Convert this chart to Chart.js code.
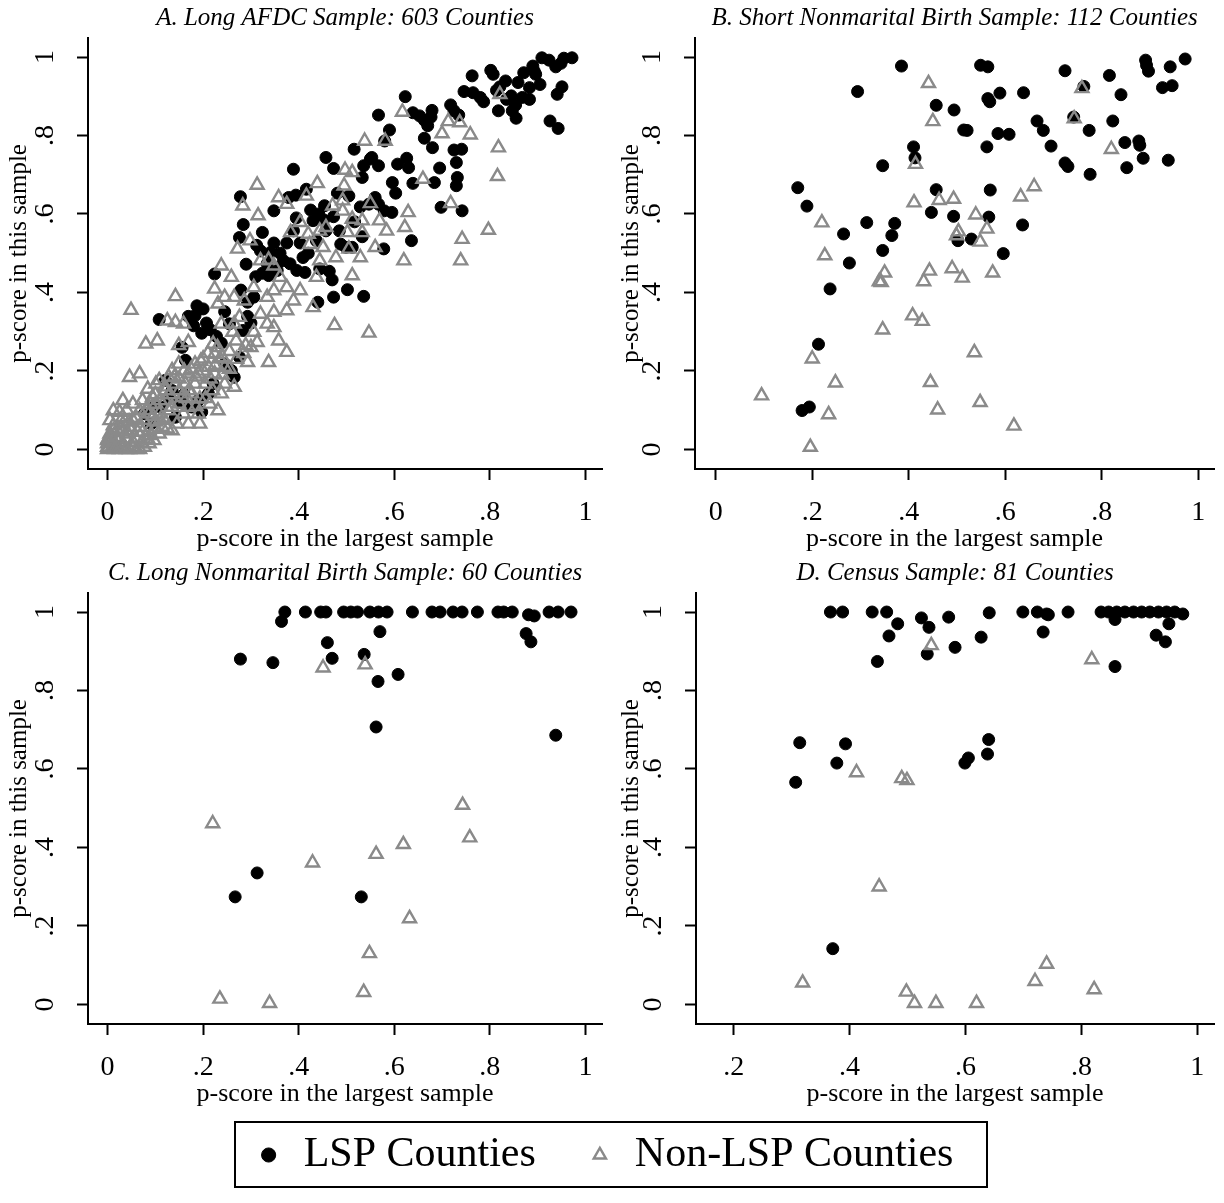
<!DOCTYPE html>
<html>
<head>
<meta charset="utf-8">
<script src="https://cdn.jsdelivr.net/npm/chart.js@4.4.1/dist/chart.umd.min.js"></script>
<style>
  html, body { margin: 0; padding: 0; background: #fff; }
  body { position: relative; width: 1224px; height: 1203px; overflow: hidden; }
  canvas { position: absolute; }
  #legendBox { position: absolute; left: 234px; top: 1121px; width: 754px; height: 67px; box-sizing: border-box; border: 2px solid #000; }
</style>
</head>
<body>
<canvas id="panelA" width="612" height="555" style="left:0;top:0"></canvas>
<canvas id="panelB" width="612" height="555" style="left:612px;top:0"></canvas>
<canvas id="panelC" width="612" height="555" style="left:0;top:555px"></canvas>
<canvas id="panelD" width="612" height="555" style="left:612px;top:555px"></canvas>
<div id="legendBox"></div>
<canvas id="legendChart" width="1224" height="200" style="left:-8px;top:1084px"></canvas>
<script>
// tick values + labels (stata style, no leading zero)
const tickVals = [0, 0.2, 0.4, 0.6, 0.8, 1];
const tickText = ['0', '.2', '.4', '.6', '.8', '1'];
const tickValsD = [0.2, 0.4, 0.6, 0.8, 1];

// [p-score in largest sample, p-score in this sample]
const lspA = [
  [0.909,0.998],[0.924,0.992],[0.955,0.997],[0.972,0.998],[0.890,0.977],[0.871,0.960],[0.896,0.956],[0.938,0.975],[0.949,0.984],[0.802,0.966],
  [0.807,0.956],[0.763,0.952],[0.833,0.939],[0.859,0.935],[0.821,0.924],[0.746,0.912],[0.765,0.909],[0.780,0.897],[0.787,0.886],[0.814,0.915],
  [0.845,0.901],[0.868,0.897],[0.883,0.892],[0.854,0.878],[0.847,0.863],[0.818,0.863],[0.855,0.844],[0.905,0.930],[0.883,0.922],[0.951,0.924],
  [0.941,0.905],[0.926,0.837],[0.943,0.818],[0.893,0.964],[0.835,0.892],
  [0.623,0.899],[0.567,0.852],[0.639,0.858],[0.653,0.850],[0.663,0.839],[0.670,0.825],[0.679,0.864],[0.677,0.847],[0.718,0.878],[0.725,0.863],
  [0.735,0.852],[0.663,0.793],[0.680,0.769],[0.725,0.763],[0.741,0.765],[0.730,0.731],[0.732,0.693],[0.730,0.672],[0.695,0.717],[0.684,0.680],
  [0.698,0.617],[0.742,0.608],[0.590,0.814],[0.580,0.786],[0.516,0.765],[0.550,0.740],[0.536,0.723],[0.567,0.723],[0.607,0.727],[0.626,0.742],
  [0.630,0.718],[0.596,0.680],[0.603,0.653],[0.639,0.678],[0.553,0.744],[0.533,0.693],[0.560,0.642],[0.567,0.625],[0.579,0.608],[0.595,0.604],
  [0.578,0.511],[0.636,0.532],
  [0.457,0.744],[0.473,0.716],[0.389,0.714],[0.278,0.644],[0.348,0.608],[0.379,0.642],[0.394,0.648],[0.416,0.663],[0.425,0.610],[0.442,0.600],
  [0.454,0.621],[0.473,0.593],[0.481,0.653],[0.505,0.646],[0.529,0.618],[0.547,0.625],[0.284,0.573],[0.324,0.553],[0.276,0.540],[0.348,0.526],
  [0.375,0.526],[0.403,0.526],[0.320,0.506],[0.341,0.502],[0.361,0.500],[0.382,0.473],[0.396,0.456],[0.413,0.451],[0.444,0.460],[0.464,0.454],
  [0.470,0.432],[0.488,0.523],[0.499,0.515],[0.512,0.515],[0.533,0.542],[0.224,0.447],[0.310,0.440],[0.324,0.449],[0.337,0.443],[0.279,0.406],
  [0.440,0.375],[0.473,0.388],[0.502,0.407],[0.536,0.390],[0.368,0.481],[0.437,0.532],[0.457,0.557],[0.485,0.557],[0.389,0.557],[0.430,0.583],
  [0.334,0.473],[0.355,0.456],[0.409,0.489],[0.290,0.472],[0.312,0.520],[0.420,0.500],[0.452,0.585],[0.517,0.580],[0.395,0.590],
  [0.245,0.351],[0.187,0.366],[0.200,0.358],[0.169,0.339],[0.183,0.341],[0.207,0.322],[0.108,0.331],[0.293,0.339],[0.300,0.322],[0.283,0.303],
  [0.197,0.296],[0.228,0.288],[0.238,0.271],[0.276,0.235],[0.265,0.184],[0.259,0.201],[0.190,0.125],[0.197,0.095],[0.176,0.108],[0.135,0.150],
  [0.128,0.133],[0.111,0.108],[0.142,0.082],[0.091,0.065],[0.077,0.091],[0.097,0.108],[0.293,0.375],[0.306,0.388],[0.156,0.260],[0.163,0.227],
  [0.121,0.176],[0.245,0.218],[0.221,0.167],[0.211,0.142],[0.180,0.315],[0.215,0.305],[0.255,0.320],[0.150,0.120],[0.160,0.140]
];
const nonA = [
  [0.821,0.905],[0.617,0.860],[0.713,0.836],[0.737,0.833],[0.700,0.805],[0.759,0.802],[0.538,0.786],[0.581,0.786],[0.818,0.769],[0.816,0.696],
  [0.660,0.689],[0.497,0.712],[0.512,0.706],[0.439,0.678],[0.495,0.672],[0.313,0.674],[0.358,0.642],[0.375,0.625],[0.416,0.646],[0.283,0.621],
  [0.315,0.596],[0.471,0.621],[0.492,0.634],[0.492,0.608],[0.550,0.627],[0.629,0.604],[0.569,0.583],[0.622,0.566],[0.718,0.627],[0.797,0.559],
  [0.742,0.536],[0.739,0.481],[0.620,0.481],[0.584,0.557],[0.533,0.583],[0.512,0.587],[0.403,0.579],[0.383,0.553],[0.420,0.549],[0.444,0.557],
  [0.457,0.566],[0.502,0.553],[0.533,0.553],[0.560,0.515],[0.529,0.489],[0.505,0.511],[0.423,0.523],[0.451,0.515],[0.272,0.511],[0.298,0.532],
  [0.320,0.481],[0.337,0.483],[0.348,0.468],[0.444,0.481],[0.478,0.489],[0.437,0.439],[0.361,0.439],[0.512,0.443],[0.238,0.468],[0.259,0.439],
  [0.142,0.390],[0.049,0.355],[0.224,0.409],[0.245,0.388],[0.265,0.388],[0.286,0.379],[0.231,0.371],[0.306,0.413],[0.348,0.405],[0.375,0.413],
  [0.403,0.405],[0.389,0.379],[0.375,0.354],[0.430,0.362],[0.334,0.388],[0.320,0.345],[0.276,0.337],[0.348,0.350],[0.265,0.320],[0.238,0.320],
  [0.334,0.320],[0.348,0.311],[0.306,0.299],[0.475,0.316],[0.547,0.297],[0.262,0.299],[0.269,0.277],[0.289,0.265],[0.313,0.273],[0.358,0.277],
  [0.375,0.248],[0.337,0.222],[0.293,0.222],[0.221,0.269],[0.224,0.243],[0.235,0.231],[0.245,0.210],[0.149,0.265],[0.080,0.269],[0.104,0.277],
  [0.125,0.328],[0.142,0.324],[0.159,0.320],[0.169,0.273],[0.183,0.218],[0.200,0.231],[0.211,0.210],[0.224,0.193],[0.245,0.167],[0.190,0.193],
  [0.169,0.193],[0.149,0.218],[0.135,0.201],[0.128,0.184],[0.108,0.176],[0.067,0.193],[0.046,0.184],[0.101,0.167],[0.142,0.167],[0.163,0.167],
  [0.183,0.167],[0.204,0.167],[0.121,0.150],[0.084,0.154],[0.032,0.125],[0.053,0.116],[0.073,0.125],[0.094,0.133],[0.156,0.133],[0.176,0.142],
  [0.193,0.129],[0.149,0.116],[0.067,0.099],[0.087,0.091],[0.108,0.091],[0.128,0.099],[0.145,0.065],[0.169,0.065],[0.193,0.065],[0.025,0.095],
  [0.005,0.074],[0.012,0.061],[0.032,0.065],[0.046,0.057],[0.067,0.057],[0.087,0.048],[0.108,0.040],[0.125,0.053],[0.005,0.040],[0.019,0.031],
  [0.039,0.027],[0.060,0.027],[0.077,0.006],[0.000,0.015],[0.015,0.010],[0.032,0.006],[0.053,0.006],[0.000,0.000],[0.190,0.091],[0.169,0.108],
  [0.032,0.082],[0.053,0.074],[0.101,0.070],[0.001,0.027],[0.022,0.019],[0.042,0.040],[0.063,0.044],[0.084,0.027],[0.097,0.023],[0.000,0.006],
  [0.008,0.002],[0.025,0.000],[0.046,0.000],[0.067,0.000],[0.012,0.048],[0.029,0.053],[0.049,0.048],[0.073,0.044],[0.090,0.036],[0.114,0.057],
  [0.135,0.048],[0.000,0.023],[0.012,0.019],[0.032,0.015],[0.053,0.019],[0.070,0.015],[0.087,0.015],[0.039,0.000],[0.015,0.000],[0.060,0.000],
  [0.118,0.078],[0.159,0.091],[0.135,0.108],[0.101,0.116],[0.012,0.099],[0.121,0.125],[0.214,0.116],[0.231,0.099],[0.265,0.159],[0.238,0.142],
  [0.150,0.180],[0.170,0.150],[0.185,0.185],[0.200,0.200],[0.215,0.180],[0.225,0.215],[0.240,0.235],[0.255,0.250],[0.230,0.260],[0.210,0.245],
  [0.195,0.225],[0.175,0.205],[0.160,0.200],[0.140,0.185],[0.120,0.160],[0.100,0.140],[0.090,0.115],[0.080,0.100],[0.110,0.125],[0.130,0.140],
  [0.150,0.150],[0.165,0.130],[0.185,0.110],[0.205,0.130],[0.220,0.150],[0.240,0.190],[0.255,0.205],[0.270,0.230],[0.285,0.245],[0.300,0.260],
  [0.060,0.080],[0.075,0.075],[0.095,0.085],[0.110,0.075],[0.045,0.070],[0.040,0.100],[0.030,0.045],[0.020,0.050],[0.008,0.030],[0.100,0.052]
];

const lspB = [
  [0.385,0.977],[0.549,0.979],[0.564,0.975],[0.724,0.965],[0.816,0.953],[0.891,0.992],[0.893,0.979],[0.897,0.964],[0.942,0.975],[0.973,0.995],
  [0.926,0.922],[0.946,0.927],[0.840,0.904],[0.763,0.925],[0.294,0.912],[0.457,0.877],[0.494,0.865],[0.564,0.894],[0.568,0.886],[0.589,0.908],
  [0.638,0.909],[0.666,0.837],[0.679,0.813],[0.742,0.847],[0.823,0.837],[0.774,0.813],[0.514,0.814],[0.521,0.813],[0.585,0.805],[0.608,0.803],
  [0.562,0.771],[0.695,0.773],[0.848,0.782],[0.877,0.786],[0.879,0.775],[0.886,0.742],[0.938,0.737],[0.724,0.730],[0.730,0.721],[0.776,0.701],
  [0.852,0.718],[0.410,0.771],[0.413,0.743],[0.346,0.723],[0.170,0.667],[0.189,0.620],[0.457,0.662],[0.569,0.661],[0.447,0.604],[0.493,0.594],
  [0.566,0.592],[0.636,0.572],[0.313,0.578],[0.371,0.576],[0.365,0.545],[0.265,0.549],[0.346,0.507],[0.277,0.475],[0.502,0.532],[0.530,0.536],
  [0.596,0.499],[0.237,0.409],[0.213,0.268],[0.179,0.099],[0.194,0.108]
];
const nonB = [
  [0.441,0.933],[0.759,0.920],[0.450,0.836],[0.743,0.843],[0.820,0.765],[0.414,0.727],[0.660,0.670],[0.632,0.644],[0.411,0.629],[0.463,0.635],
  [0.493,0.638],[0.539,0.598],[0.562,0.562],[0.503,0.555],[0.499,0.545],[0.548,0.529],[0.220,0.578],[0.226,0.494],[0.350,0.450],[0.339,0.428],
  [0.343,0.426],[0.443,0.455],[0.431,0.428],[0.490,0.461],[0.511,0.437],[0.574,0.450],[0.408,0.341],[0.428,0.327],[0.346,0.305],[0.536,0.247],
  [0.200,0.231],[0.248,0.170],[0.445,0.171],[0.095,0.137],[0.548,0.120],[0.234,0.089],[0.460,0.101],[0.618,0.060],[0.196,0.006]
];

const lspC = [
  [0.371,1],[0.414,1],[0.446,1],[0.457,1],[0.494,1],[0.509,1],[0.523,1],[0.549,1],[0.567,1],[0.585,1],
  [0.638,1],[0.679,1],[0.696,1],[0.723,1],[0.742,1],[0.774,1],[0.817,1],[0.829,1],[0.847,1],[0.893,0.99],
  [0.924,1],[0.943,1],[0.970,1],[0.364,0.976],[0.876,0.945],[0.886,0.924],[0.881,0.993],[0.570,0.950],[0.460,0.922],[0.278,0.880],
  [0.346,0.871],[0.470,0.882],[0.537,0.892],[0.566,0.823],[0.608,0.841],[0.562,0.707],[0.938,0.686],[0.313,0.335],[0.267,0.274],[0.531,0.274]
];
const nonC = [
  [0.451,0.858],[0.539,0.866],[0.743,0.508],[0.220,0.461],[0.758,0.425],[0.619,0.408],[0.562,0.383],[0.429,0.361],[0.632,0.219],[0.548,0.130],
  [0.536,0.031],[0.235,0.014],[0.339,0.003]
];

const lspD = [
  [0.367,1],[0.388,1],[0.439,1],[0.464,1],[0.641,0.998],[0.699,1],[0.724,1],[0.740,0.995],[0.777,1],[0.834,1],
  [0.847,1],[0.861,1],[0.875,1],[0.890,1],[0.904,1],[0.918,1],[0.933,1],[0.947,1],[0.961,1],[0.975,0.995],
  [0.483,0.970],[0.524,0.985],[0.537,0.961],[0.571,0.987],[0.468,0.939],[0.448,0.874],[0.534,0.893],[0.582,0.910],[0.627,0.936],[0.734,0.949],
  [0.743,0.993],[0.858,0.981],[0.951,0.970],[0.929,0.941],[0.945,0.924],[0.858,0.861],[0.314,0.667],[0.307,0.566],[0.378,0.615],[0.393,0.664],
  [0.599,0.615],[0.605,0.628],[0.638,0.638],[0.640,0.675],[0.371,0.142]
];
const nonD = [
  [0.541,0.915],[0.818,0.879],[0.412,0.591],[0.490,0.576],[0.499,0.571],[0.451,0.300],[0.740,0.103],[0.720,0.059],[0.822,0.038],[0.319,0.055],
  [0.498,0.032],[0.512,0.003],[0.549,0.003],[0.619,0.003]
];

const serif = '"Liberation Serif", "Times New Roman", Times, serif';
const grey = '#8a8a8a';

function tickLabel(v) {
  const i = tickVals.findIndex(t => Math.abs(t - v) < 1e-9);
  return i < 0 ? '' : tickText[i];
}

function lspSet(pts) {
  return {
    label: 'LSP Counties', data: pts.map(p => ({x: p[0], y: p[1]})),
    pointStyle: 'circle', pointRadius: 6, pointHoverRadius: 6, pointBorderWidth: 1,
    pointBackgroundColor: '#000', pointBorderColor: '#000',
    backgroundColor: '#000', borderColor: '#000', borderWidth: 1
  };
}
function nonSet(pts) {
  return {
    label: 'Non-LSP Counties', data: pts.map(p => ({x: p[0], y: p[1]})),
    pointStyle: 'triangle', pointRadius: 7.5, pointHoverRadius: 7.5, pointBorderWidth: 2.4,
    pointBackgroundColor: 'rgba(0,0,0,0)', pointBorderColor: grey,
    backgroundColor: 'rgba(0,0,0,0)', borderColor: grey, borderWidth: 2.4
  };
}

function makePanel(p) {
  const circles = lspSet(p.lsp);
  const tris = nonSet(p.non);
  circles.order = 1;   // triangles get drawn on top
  tris.order = 0;
  return new Chart(document.getElementById(p.id), {
    type: 'scatter',
    data: { datasets: [circles, tris] },
    options: {
      responsive: false,
      animation: false,
      devicePixelRatio: 1,
      layout: { padding: { left: 0, right: p.padR, top: 0, bottom: 0 } },
      plugins: {
        legend: { display: false },
        tooltip: { enabled: false },
        title: {
          display: true, text: p.title, fullSize: false, color: '#000',
          font: { family: serif, size: 25, style: 'italic', weight: 'normal' },
          padding: { top: 3, bottom: 4 }
        }
      },
      scales: {
        x: {
          type: 'linear', min: p.xMin, max: p.xMax,
          afterBuildTicks: s => { s.ticks = p.xTicks.map(v => ({ value: v })); },
          afterFit: s => { s.height = 86; },
          border: { display: true, color: '#000', width: 2 },
          grid: { drawOnChartArea: false, drawTicks: true, tickLength: 11, tickWidth: 2, tickColor: '#000', color: '#000' },
          ticks: { color: '#000', font: { family: serif, size: 28 }, padding: 16, maxRotation: 0, callback: v => tickLabel(v) },
          title: { display: true, text: 'p-score in the largest sample', color: '#000', font: { family: serif, size: 26 }, padding: { top: 0, bottom: 0 } }
        },
        y: {
          type: 'linear', min: -0.05, max: 1.049,
          afterBuildTicks: s => { s.ticks = tickVals.map(v => ({ value: v })); },
          afterFit: s => { s.width = p.yW; },
          border: { display: true, color: '#000', width: 2 },
          grid: { drawOnChartArea: false, drawTicks: true, tickLength: 11, tickWidth: 2, tickColor: '#000', color: '#000' },
          ticks: { color: '#000', font: { family: serif, size: 28 }, padding: 21, minRotation: 90, maxRotation: 90, crossAlign: 'center', callback: v => tickLabel(v) },
          title: { display: true, text: 'p-score in this sample', color: '#000', font: { family: serif, size: 25 }, padding: { top: 4, bottom: 0 } }
        }
      }
    }
  });
}

const panels = [
  { id: 'panelA', title: 'A. Long AFDC Sample: 603 Counties', lsp: lspA, non: nonA, xMin: -0.041, xMax: 1.035, xTicks: tickVals, yW: 88, padR: 1 },
  { id: 'panelB', title: 'B. Short Nonmarital Birth Sample: 112 Counties', lsp: lspB, non: nonB, xMin: -0.043, xMax: 1.033, xTicks: tickVals, yW: 83, padR: 6 },
  { id: 'panelC', title: 'C. Long Nonmarital Birth Sample: 60 Counties', lsp: lspC, non: nonC, xMin: -0.041, xMax: 1.035, xTicks: tickVals, yW: 88, padR: 1 },
  { id: 'panelD', title: 'D. Census Sample: 81 Counties', lsp: lspD, non: nonD, xMin: 0.135, xMax: 1.029, xTicks: tickValsD, yW: 84, padR: 6 }
];
panels.forEach(makePanel);

// shared legend underneath
new Chart(document.getElementById('legendChart'), {
  type: 'scatter',
  data: { datasets: [lspSet([]), nonSet([])] },
  options: {
    responsive: false,
    animation: false,
    devicePixelRatio: 1,
    scales: { x: { display: false }, y: { display: false } },
    plugins: {
      tooltip: { enabled: false },
      legend: {
        display: true, position: 'top', align: 'center',
        labels: { usePointStyle: true, boxWidth: 28, boxHeight: 10, padding: 50, color: '#000', font: { family: serif, size: 42 } }
      }
    }
  }
});
</script>
</body>
</html>
